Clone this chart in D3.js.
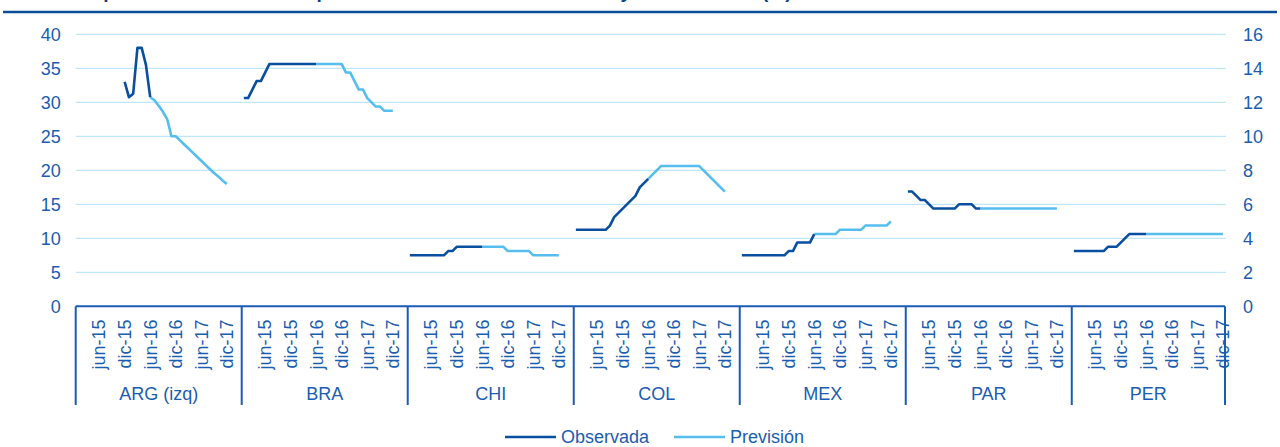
<!DOCTYPE html>
<html>
<head>
<meta charset="utf-8">
<script src="https://cdn.jsdelivr.net/npm/d3@7"></script>
<style>
  html, body { margin: 0; padding: 0; background: #ffffff; }
  svg { display: block; font-family: "Liberation Sans", Arial, sans-serif; }
</style>
</head>
<body>
<svg id="chart" width="1280" height="447"></svg>
<script>
// ---------------- DATA ----------------
const titleText = "Tasas de política monetaria: comparación entre datos observados y estimaciones (%)";
const countries = ["ARG (izq)", "BRA", "CHI", "COL", "MEX", "PAR", "PER"];
// monthly categories per country block (ene-15 ... mar-18); PER block ends at dic-17
const months = ["ene-15","feb-15","mar-15","abr-15","may-15","jun-15","jul-15","ago-15","sep-15","oct-15","nov-15","dic-15",
                "ene-16","feb-16","mar-16","abr-16","may-16","jun-16","jul-16","ago-16","sep-16","oct-16","nov-16","dic-16",
                "ene-17","feb-17","mar-17","abr-17","may-17","jun-17","jul-17","ago-17","sep-17","oct-17","nov-17","dic-17",
                "ene-18","feb-18","mar-18"];
const blockLengths = [39, 39, 39, 39, 39, 39, 36];
const tickLabels = ["jun-15","dic-15","jun-16","dic-16","jun-17","dic-17"];
const leftTicks = [0, 5, 10, 15, 20, 25, 30, 35, 40];
const rightTicks = [0, 2, 4, 6, 8, 10, 12, 14, 16];
const seriesNames = ["Observada", "Previsión"];

const _ = null;
// Observed values (index = month from ene-15)
const argObs = [_,_,_,_,_,_,_,_,_,_,_,33,30.75,31.25,38,38,35.5,30.75];
const braObs = [12.25,12.25,12.75,13.25,13.25,13.75,14.25,14.25,14.25,14.25,14.25,14.25,14.25,14.25,14.25,14.25,14.25,14.25];
const chiObs = [3,3,3,3,3,3,3,3,3,3.25,3.25,3.5,3.5,3.5,3.5,3.5,3.5,3.5];
const colObs = [4.5,4.5,4.5,4.5,4.5,4.5,4.5,4.5,4.75,5.25,5.5,5.75,6,6.25,6.5,7,7.25,7.5];
const mexObs = [3,3,3,3,3,3,3,3,3,3,3,3.25,3.25,3.75,3.75,3.75,3.75,4.25];
const parObs = [6.75,6.75,6.5,6.25,6.25,6,5.75,5.75,5.75,5.75,5.75,5.75,6,6,6,6,5.75,5.75];
const perObs = [3.25,3.25,3.25,3.25,3.25,3.25,3.25,3.25,3.5,3.5,3.5,3.75,4,4.25,4.25,4.25,4.25,4.25];
// Forecast values (start at jun-16, index 17, to dic-17, index 35)
const argPrev = [30.75,30.3,29.5,28.6,27.5,25,25,24.4,23.8,23.2,22.6,22,21.4,20.8,20.2,19.6,19.1,18.5,18];
const braPrev = [14.25,14.25,14.25,14.25,14.25,14.25,14.25,13.75,13.75,13.25,12.75,12.75,12.25,12,11.75,11.75,11.5,11.5,11.5];
const chiPrev = [3.5,3.5,3.5,3.5,3.5,3.5,3.25,3.25,3.25,3.25,3.25,3.25,3,3,3,3,3,3,3];
const colPrev = [7.5,7.75,8,8.25,8.25,8.25,8.25,8.25,8.25,8.25,8.25,8.25,8.25,8,7.75,7.5,7.25,7,6.75];
const mexPrev = [4.25,4.25,4.25,4.25,4.25,4.25,4.5,4.5,4.5,4.5,4.5,4.5,4.75,4.75,4.75,4.75,4.75,4.75,5];
const parPrev = [5.75,5.75,5.75,5.75,5.75,5.75,5.75,5.75,5.75,5.75,5.75,5.75,5.75,5.75,5.75,5.75,5.75,5.75,5.75];
const perPrev = [4.25,4.25,4.25,4.25,4.25,4.25,4.25,4.25,4.25,4.25,4.25,4.25,4.25,4.25,4.25,4.25,4.25,4.25,4.25];
const forecastStart = 17;

// ---------------- STYLE ----------------
const C = {
  text: "#1b5db0",
  axis: "#1a5cb3",
  grid: "#bfe7fb",
  dark: "#0a4f9f",
  light: "#56bdef",
  rule: "#0d4c99"
};
const FS = 18;

const svg = d3.select("#chart");
const plot = { left: 75.7, right: 1225, top: 34.3, bottom: 306.3 };

// build categories
const cats = [];
countries.forEach((c, ci) => {
  for (let m = 0; m < blockLengths[ci]; m++) cats.push({ key: c + "|" + m, country: c, ci, m, label: months[m] });
});

const x = d3.scaleBand().domain(cats.map(d => d.key)).range([plot.left, plot.right]).padding(0);
const cx = key => x(key) + x.bandwidth() / 2;
const yL = d3.scaleLinear().domain([0, 40]).range([plot.bottom, plot.top]);
const yR = d3.scaleLinear().domain([0, 16]).range([plot.bottom, plot.top]);

// title (cut at the top of the picture, only descenders show) and rule
svg.append("text").attr("x", 18).attr("y", -2)
  .attr("font-size", 19).attr("font-weight", "bold").attr("fill", "#0b3f85")
  .text(titleText);
svg.append("line").attr("x1", 3).attr("x2", 1277).attr("y1", 12).attr("y2", 12)
  .attr("stroke", C.rule).attr("stroke-width", 2.5);

// gridlines
svg.append("g").selectAll("line").data(leftTicks.filter(t => t > 0)).join("line")
  .attr("x1", plot.left).attr("x2", plot.right + 1)
  .attr("y1", d => yL(d)).attr("y2", d => yL(d))
  .attr("stroke", C.grid).attr("stroke-width", 1.2);

// y axes
const gl = svg.append("g").attr("transform", `translate(${plot.left},0)`)
  .call(d3.axisLeft(yL).tickValues(leftTicks).tickSize(0).tickPadding(15));
gl.select(".domain").remove();
gl.selectAll("text").attr("fill", C.text).attr("font-size", FS).attr("font-family", "Liberation Sans, Arial, sans-serif");

const gr = svg.append("g").attr("transform", `translate(${plot.right},0)`)
  .call(d3.axisRight(yR).tickValues(rightTicks).tickSize(0).tickPadding(18));
gr.select(".domain").remove();
gr.selectAll("text").attr("fill", C.text).attr("font-size", FS).attr("font-family", "Liberation Sans, Arial, sans-serif");

// category axis: baseline and block separators
svg.append("line").attr("x1", plot.left).attr("x2", plot.right)
  .attr("y1", yL(0)).attr("y2", yL(0)).attr("stroke", C.axis).attr("stroke-width", 2);

const blockStarts = countries.map((c, ci) => x(c + "|0"));
const boundaries = blockStarts.concat([plot.right]);
svg.append("g").selectAll("line").data(boundaries).join("line")
  .attr("x1", d => d).attr("x2", d => d)
  .attr("y1", yL(0)).attr("y2", 405)
  .attr("stroke", C.axis).attr("stroke-width", 2);

// month tick labels
svg.append("g").selectAll("text")
  .data(cats.filter(d => tickLabels.includes(d.label)))
  .join("text")
  .attr("transform", d => `translate(${cx(d.key)},319.5) rotate(-90)`)
  .attr("text-anchor", "end").attr("dy", "0.35em")
  .attr("font-size", FS).attr("fill", C.text)
  .text(d => d.label);

// country labels
svg.append("g").selectAll("text").data(countries).join("text")
  .attr("x", (d, i) => (boundaries[i] + boundaries[i + 1]) / 2)
  .attr("y", 400)
  .attr("text-anchor", "middle").attr("font-size", FS).attr("fill", C.text)
  .text(d => d);

// series
const obsSeries = [argObs, braObs, chiObs, colObs, mexObs, parObs, perObs];
const prevSeries = [argPrev, braPrev, chiPrev, colPrev, mexPrev, parPrev, perPrev];

function pts(ci, arr, offset) {
  const yS = ci === 0 ? yL : yR;
  return arr.map((v, i) => ({ x: cx(countries[ci] + "|" + (i + offset)), v, yS }));
}
const line = d3.line().defined(d => d.v !== null).x(d => d.x).y(d => d.yS(d.v));

const gLines = svg.append("g").attr("fill", "none").attr("stroke-linejoin", "round").attr("stroke-linecap", "butt");
countries.forEach((c, ci) => {
  gLines.append("path").datum(pts(ci, prevSeries[ci], forecastStart))
    .attr("d", line).attr("stroke", C.light).attr("stroke-width", 2.6);
  gLines.append("path").datum(pts(ci, obsSeries[ci], 0))
    .attr("d", line).attr("stroke", C.dark).attr("stroke-width", 2.6);
});

// legend
const legend = svg.append("g");
const legItems = [
  { name: seriesNames[0], color: C.dark, x: 505 },
  { name: seriesNames[1], color: C.light, x: 674 }
];
legItems.forEach(it => {
  legend.append("line").attr("x1", it.x).attr("x2", it.x + 51).attr("y1", 437).attr("y2", 437)
    .attr("stroke", it.color).attr("stroke-width", 2.6);
  legend.append("text").attr("x", it.x + 56).attr("y", 437).attr("dy", "0.35em")
    .attr("font-size", FS).attr("fill", C.text).text(it.name);
});
</script>
</body>
</html>
